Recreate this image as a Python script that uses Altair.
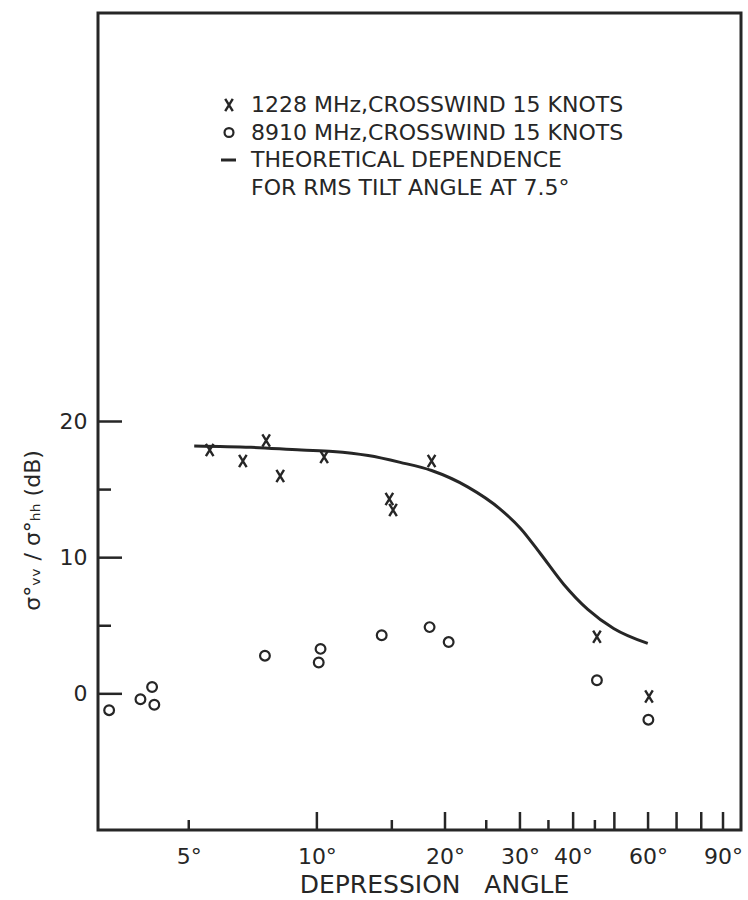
import altair as alt
import pandas as pd

# ---- measured data -------------------------------------------------------
# 1228 MHz, crosswind 15 knots (x markers)
angle_1228 = [5.6, 6.7, 7.6, 8.2, 10.4, 14.8, 15.1, 18.6, 45.5, 60.3]
ratio_1228 = [17.9, 17.1, 18.6, 16.0, 17.4, 14.3, 13.5, 17.1, 4.2, -0.2]

# 8910 MHz, crosswind 15 knots (open circles)
angle_8910 = [3.25, 3.85, 4.1, 4.15, 7.55, 10.2, 10.1, 14.2, 18.4, 20.4, 45.5, 60.1]
ratio_8910 = [-1.2, -0.4, 0.5, -0.8, 2.8, 3.3, 2.3, 4.3, 4.9, 3.8, 1.0, -1.9]

# theoretical dependence for rms tilt angle 7.5 deg
theory_angle = [5.15, 7.0, 9.2, 10.9, 13.2, 15.7, 18.6, 22.6, 27.0, 30.1, 33.6, 38.0, 43.3, 49.8, 59.9]
theory_ratio = [18.2, 18.1, 17.9, 17.8, 17.5, 17.0, 16.4, 15.2, 13.55, 12.15, 10.25, 8.05, 6.2, 4.8, 3.7]

# axis ticks and labels
x_label_values = [5, 10, 20, 30, 40, 60, 90]
x_major_ticks = [10, 20, 30, 40, 50, 60, 70, 80, 90]
x_minor_ticks = [5, 15, 25, 35, 45]
y_label_values = [0, 10, 20]
y_major_ticks = [0, 10, 20]
y_minor_ticks = [5, 15]

legend_lines = [
    "1228 MHz,CROSSWIND 15 KNOTS",
    "8910 MHz,CROSSWIND 15 KNOTS",
    "THEORETICAL DEPENDENCE",
    "FOR RMS TILT ANGLE AT 7.5°",
]

# ---- styling -------------------------------------------------------------
FONT = "DejaVu Sans"
INK = "#262626"
W, H = 643, 817
X_PATH = "M-0.62,-1L0.62,1M0.62,-1L-0.62,1"

x_scale = alt.Scale(type="log", domain=[3.06, 99.2], nice=False)
y_scale = alt.Scale(domain=[-10, 50], nice=False, zero=False)

x_axis = alt.Axis(
    values=x_label_values,
    labelExpr="datum.value + '°'",
    labelPadding=16,
    labelOverlap=False,
    labelFlush=False,
    labelBound=False,
    title="DEPRESSION\u00a0\u00a0\u00a0ANGLE",
    titleFontSize=25,
    titleX=336,
    titleY=54,
    titleAlign="center",
    titleBaseline="middle",
)
y_axis = alt.Axis(
    values=y_label_values,
    labelPadding=11,
    labelBaseline="middle",
    title="σ°ᵥᵥ / σ°ₕₕ  (dB)",
    titleFontSize=22,
    titleAngle=270,
    titleX=-66,
    titleY=517,
    titleAlign="center",
    titleBaseline="middle",
)

# ---- data layers ---------------------------------------------------------
df_1228 = pd.DataFrame({"angle": angle_1228, "ratio": ratio_1228})
df_8910 = pd.DataFrame({"angle": angle_8910, "ratio": ratio_8910})
df_theory = pd.DataFrame({"angle": theory_angle, "ratio": theory_ratio})

crosses = alt.Chart(df_1228).mark_point(
    shape=X_PATH, size=150, filled=False, strokeWidth=2.4, color=INK, opacity=1
).encode(
    x=alt.X("angle:Q", scale=x_scale, axis=x_axis),
    y=alt.Y("ratio:Q", scale=y_scale, axis=y_axis),
)

circles = alt.Chart(df_8910).mark_point(
    shape="circle", size=95, filled=False, strokeWidth=2.2, color=INK, opacity=1
).encode(
    x=alt.X("angle:Q", scale=x_scale),
    y=alt.Y("ratio:Q", scale=y_scale),
)

theory = alt.Chart(df_theory).mark_line(
    interpolate="monotone", strokeWidth=3, color=INK
).encode(
    x=alt.X("angle:Q", scale=x_scale),
    y=alt.Y("ratio:Q", scale=y_scale),
)

# ---- inward tick marks ---------------------------------------------------
def x_ticks(values, length):
    return alt.Chart(pd.DataFrame({"angle": values})).mark_rule(
        strokeWidth=2.5, color=INK
    ).encode(
        x=alt.X("angle:Q", scale=x_scale),
        y=alt.value(H),
        y2=alt.value(H - length),
    )


def y_ticks(values, length):
    return alt.Chart(pd.DataFrame({"ratio": values})).mark_rule(
        strokeWidth=2.5, color=INK
    ).encode(
        y=alt.Y("ratio:Q", scale=y_scale),
        x=alt.value(0),
        x2=alt.value(length),
    )


ticks = [
    x_ticks(x_major_ticks, 18),
    x_ticks(x_minor_ticks, 10),
    y_ticks(y_major_ticks, 24),
    y_ticks(y_minor_ticks, 13),
]

# ---- legend block --------------------------------------------------------
LEG_SYM_X = 131
LEG_TEXT_X = 153
LEG_Y0 = 92
LEG_DY = 27.5

one_row = pd.DataFrame({"k": [0]})
legend = [
    alt.Chart(one_row).mark_point(
        shape=X_PATH, size=150, filled=False, strokeWidth=2.4, color=INK, opacity=1
    ).encode(x=alt.value(LEG_SYM_X), y=alt.value(LEG_Y0)),
    alt.Chart(one_row).mark_point(
        shape="circle", size=80, filled=False, strokeWidth=2.2, color=INK, opacity=1
    ).encode(x=alt.value(LEG_SYM_X), y=alt.value(LEG_Y0 + LEG_DY)),
    alt.Chart(one_row).mark_rule(strokeWidth=3, color=INK).encode(
        x=alt.value(LEG_SYM_X - 8),
        x2=alt.value(LEG_SYM_X + 7),
        y=alt.value(LEG_Y0 + 2 * LEG_DY),
    ),
]
for i, line in enumerate(legend_lines):
    legend.append(
        alt.Chart(pd.DataFrame({"label": [line]})).mark_text(
            align="left", baseline="middle", font=FONT, fontSize=22, color=INK
        ).encode(
            x=alt.value(LEG_TEXT_X),
            y=alt.value(LEG_Y0 + i * LEG_DY),
            text="label:N",
        )
    )

chart = alt.layer(crosses, circles, theory, *ticks, *legend).properties(
    width=W,
    height=H,
    autosize=alt.AutoSizeParams(type="none"),
    padding={"left": 98, "top": 13, "right": 7, "bottom": 70},
    background="white",
).configure_view(
    stroke=INK, strokeWidth=3
).configure_axis(
    grid=False,
    domain=False,
    ticks=False,
    labelFont=FONT,
    titleFont=FONT,
    labelColor=INK,
    titleColor=INK,
    labelFontSize=22,
    titleFontWeight="normal",
)

chart.save("out.html", embed_options={"renderer": "svg", "actions": False})
